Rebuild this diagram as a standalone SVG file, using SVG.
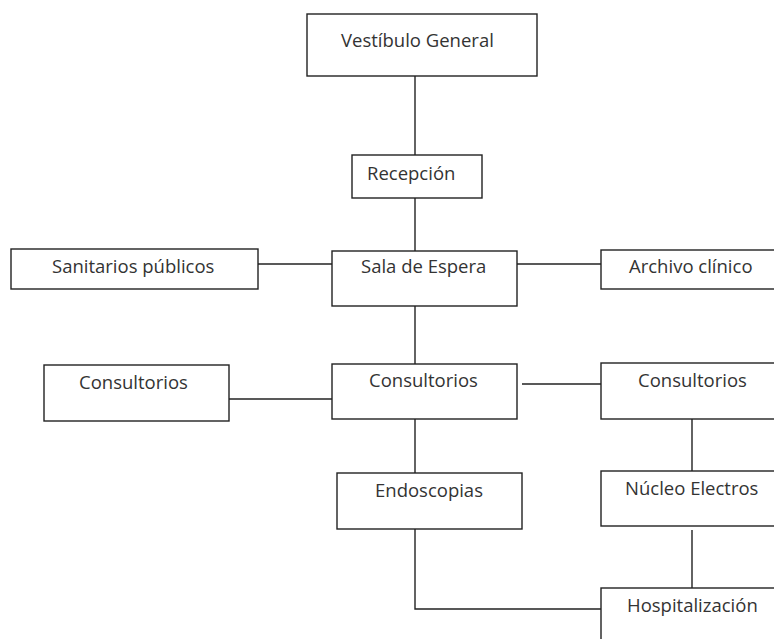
<svg xmlns="http://www.w3.org/2000/svg" width="774" height="639" viewBox="0 0 774 639">
<style>
.box{fill:#fff;stroke:#222;stroke-width:1.4}
.lbl{font-family:"Open Sans","Noto Sans",sans-serif;font-size:18.5px;fill:#333}
.ln{stroke:#222;stroke-width:1.4;fill:none}
</style>
<rect width="774" height="639" fill="#fff"/>
<g id="connectors">
<line class="ln" x1="415" y1="76" x2="415" y2="155"/>
<line class="ln" x1="419" y1="155" x2="419" y2="175"/>
<line class="ln" x1="415" y1="198" x2="415" y2="251"/>
<line class="ln" x1="258" y1="264" x2="332" y2="264"/>
<line class="ln" x1="517" y1="264" x2="608" y2="264"/>
<line class="ln" x1="415" y1="306" x2="415" y2="364"/>
<line class="ln" x1="229" y1="399" x2="332" y2="399"/>
<line class="ln" x1="522" y1="384" x2="601" y2="384"/>
<line class="ln" x1="415" y1="419" x2="415" y2="473"/>
<line class="ln" x1="692" y1="419" x2="692" y2="471"/>
<line class="ln" x1="692" y1="530" x2="692" y2="588"/>
<polyline class="ln" points="415,529 415,609 601,609"/>
</g>
<g id="vestibulo"><rect class="box" x="307" y="14" width="230" height="62"/><text class="lbl" x="341" y="47">Vestíbulo General</text></g>
<g id="recepcion"><rect class="box" x="352" y="155" width="130" height="43"/><text class="lbl" x="367" y="180">Recepción</text></g>
<g id="sanitarios"><rect class="box" x="11" y="249" width="247" height="40"/><text class="lbl" x="52" y="273">Sanitarios públicos</text></g>
<g id="sala"><rect class="box" x="332" y="251" width="185" height="55"/><text class="lbl" x="361" y="273">Sala de Espera</text></g>
<g id="archivo"><rect class="box" x="601" y="250" width="190" height="39"/><text class="lbl" x="629" y="273">Archivo clínico</text></g>
<g id="consultorios-izq"><rect class="box" x="44" y="365" width="185" height="56"/><text class="lbl" x="79" y="389">Consultorios</text></g>
<g id="consultorios-centro"><rect class="box" x="332" y="364" width="185" height="55"/><text class="lbl" x="369" y="387">Consultorios</text></g>
<g id="consultorios-der"><rect class="box" x="601" y="363" width="190" height="56"/><text class="lbl" x="638" y="387">Consultorios</text></g>
<g id="endoscopias"><rect class="box" x="337" y="473" width="185" height="56"/><text class="lbl" x="375" y="497">Endoscopias</text></g>
<g id="nucleo"><rect class="box" x="601" y="471" width="190" height="55"/><text class="lbl" x="625" y="495">Núcleo Electros</text></g>
<g id="hospitalizacion"><rect class="box" x="601" y="588" width="190" height="70"/><text class="lbl" x="627" y="612">Hospitalización</text></g>
</svg>
